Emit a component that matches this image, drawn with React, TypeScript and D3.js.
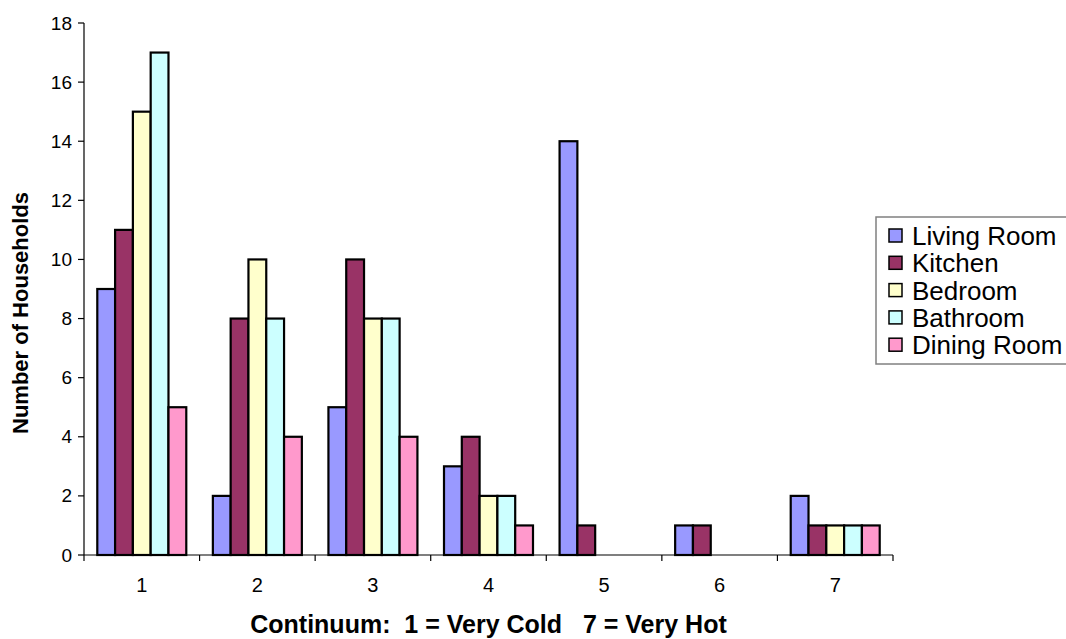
import React from "react";
import * as d3 from "d3";

const categories = ["1", "2", "3", "4", "5", "6", "7"];
const seriesNames = ["Living Room", "Kitchen", "Bedroom", "Bathroom", "Dining Room"];
const livingRoom = [9, 2, 5, 3, 14, 1, 2];
const kitchen = [11, 8, 10, 4, 1, 1, 1];
const bedroom = [15, 10, 8, 2, 0, 0, 1];
const bathroom = [17, 8, 8, 2, 0, 0, 1];
const diningRoom = [5, 4, 4, 1, 0, 0, 1];
const seriesColors = ["#9999FF", "#993366", "#FFFFCC", "#CCFFFF", "#FF99CC"];
const yTicks = [0, 2, 4, 6, 8, 10, 12, 14, 16, 18];

const W = 1066;
const H = 639;
const left = 84;
const right = 893;
const top = 23;
const bottom = 555;
const font = "'Liberation Sans', Arial, sans-serif";

export default function App() {
  const seriesValues = [livingRoom, kitchen, bedroom, bathroom, diningRoom];
  const x0 = d3.scaleBand<string>().domain(categories).range([left, right]).paddingInner(0.23).paddingOuter(0.115);
  const x1 = d3.scaleBand<string>().domain(seriesNames).range([0, x0.bandwidth()]).padding(0);
  const y = d3.scaleLinear().domain([0, 18]).range([bottom, top]);
  const step = x0.step();

  return (
    <svg width={W} height={H} style={{ position: "absolute", left: 0, top: 0, display: "block" }} fontFamily={font}>
      <rect x={0} y={0} width={W} height={H} fill="#fff" />
      {/* bars */}
      {categories.map((c, ci) =>
        seriesNames.map((s, si) => {
          const v = seriesValues[si][ci];
          if (!v) return null;
          return (
            <rect
              key={c + s}
              x={(x0(c) as number) + (x1(s) as number)}
              y={y(v)}
              width={x1.bandwidth()}
              height={y(0) - y(v)}
              fill={seriesColors[si]}
              stroke="#000"
              strokeWidth={2.2}
            />
          );
        })
      )}
      {/* y axis */}
      <line x1={left} x2={left} y1={top} y2={bottom} stroke="#000" strokeWidth={1.2} />
      {yTicks.map((t) => (
        <g key={t}>
          <line x1={left - 6} x2={left} y1={y(t)} y2={y(t)} stroke="#000" strokeWidth={1.2} />
          <text x={left - 12} y={y(t) + 6.5} textAnchor="end" fontSize={19} fill="#000">
            {t}
          </text>
        </g>
      ))}
      {/* x axis */}
      <line x1={left} x2={right} y1={bottom} y2={bottom} stroke="#000" strokeWidth={1.2} />
      {d3.range(categories.length + 1).map((i) => (
        <line key={i} x1={left + i * step} x2={left + i * step} y1={bottom} y2={bottom + 6} stroke="#000" strokeWidth={1.2} />
      ))}
      {categories.map((c) => (
        <text key={c} x={(x0(c) as number) + x0.bandwidth() / 2} y={592} textAnchor="middle" fontSize={20} fill="#000">
          {c}
        </text>
      ))}
      {/* titles */}
      <text x={(left + right) / 2} y={633} textAnchor="middle" fontSize={25} fontWeight="bold" fill="#000" style={{ whiteSpace: "pre" }}>
        {"Continuum:  1 = Very Cold   7 = Very Hot"}
      </text>
      <text
        transform={`translate(28, ${(189 + 437) / 2}) rotate(-90)`}
        textAnchor="middle"
        fontSize={22}
        fontWeight="bold"
        fill="#000"
      >
        Number of Households
      </text>
      {/* legend */}
      <rect x={876} y={217} width={210} height={147} fill="#fff" stroke="#808080" strokeWidth={1.5} />
      {seriesNames.map((s, i) => {
        const cy = 236 + i * 27.3;
        return (
          <g key={s}>
            <rect x={889} y={cy - 7} width={13} height={13} fill={seriesColors[i]} stroke="#000" strokeWidth={1.5} />
            <text x={912} y={cy + 9} fontSize={26} fill="#000">
              {s}
            </text>
          </g>
        );
      })}
    </svg>
  );
}
